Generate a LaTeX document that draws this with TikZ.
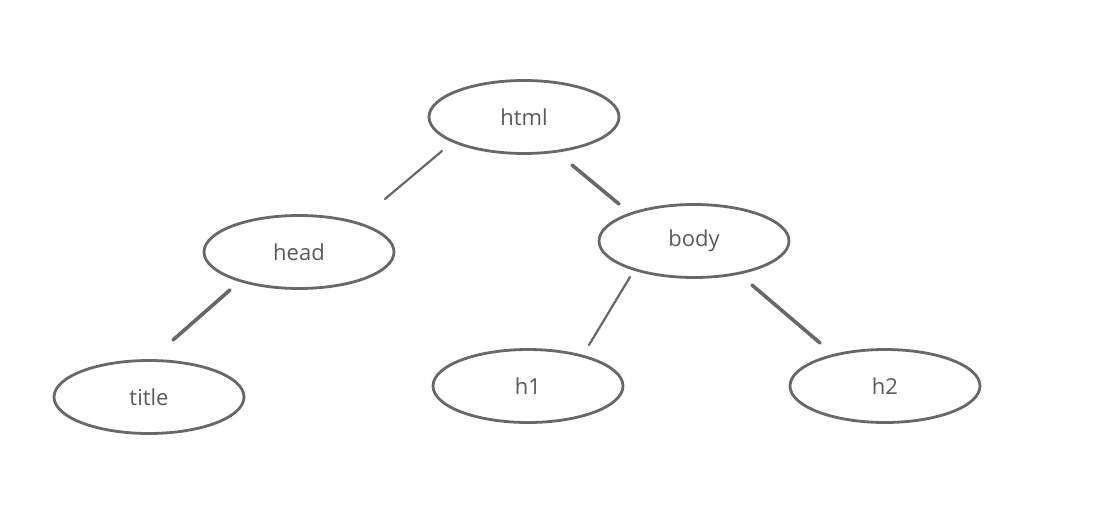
\documentclass[tikz,border=0pt]{standalone}
\usepackage{fontspec}
\setmainfont{Open Sans}
\usetikzlibrary{shapes.geometric,calc}
\definecolor{ink}{HTML}{686868}
\definecolor{txt}{HTML}{5A5A5A}
\begin{document}
\begin{tikzpicture}[x=1pt,y=-1pt,
  tnode/.style={ellipse,draw=ink,line width=2.8pt,inner sep=0pt,
    minimum width=190pt,minimum height=73pt,text=txt,
    font=\fontsize{22pt}{25pt}\selectfont},
  edge/.style={draw=ink,line width=2.2pt,line cap=round},
  thick edge/.style={edge,line width=3.6pt}]
\useasboundingbox (0,0) rectangle (1095,524);
\fill[white] (0,0) rectangle (1095,524);
\node[tnode] (html)  at (524,117) {html};
\node[tnode] (head)  at (299,252) {head};
\node[tnode] (body)  at (694,241) {body};
\node[tnode] (title) at (149,397) {title};
\node[tnode] (h1)    at (528,386) {h1};
\node[tnode] (h2)    at (885,386) {h2};
\draw[edge] ($(html)+(-82,34)$) -- ($(head)+(86,-53)$);
\draw[thick edge] ($(html)+(48,48)$) -- ($(body)+(-75,-37)$);
\draw[thick edge] ($(head)+(-69,38)$) -- ($(title)+(24,-57)$);
\draw[edge] ($(body)+(-64,36)$) -- ($(h1)+(61,-41)$);
\draw[thick edge] ($(body)+(58,44)$) -- ($(h2)+(-65,-43)$);
\end{tikzpicture}
\end{document}
